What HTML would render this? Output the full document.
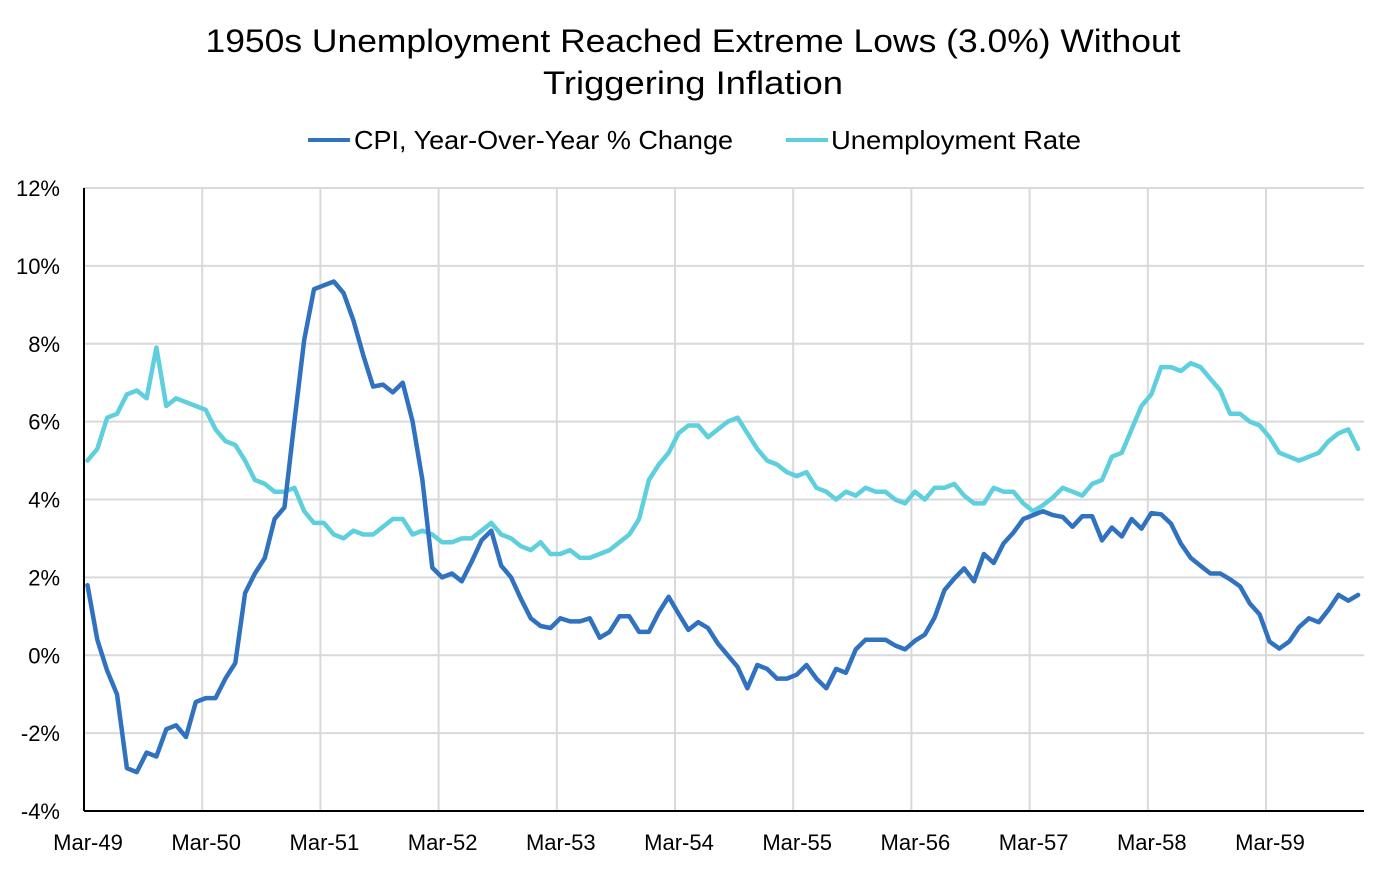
<!DOCTYPE html>
<html><head><meta charset="utf-8"><style>
html,body{margin:0;padding:0;background:#fff;}
svg{display:block;font-family:"Liberation Sans",sans-serif;}
</style></head><body>
<svg id="chart" width="1388" height="870" viewBox="0 0 1388 870">
<text x="693" y="52" text-anchor="middle" font-size="32" textLength="975" lengthAdjust="spacingAndGlyphs" fill="#000">1950s Unemployment Reached Extreme Lows (3.0%)  Without</text>
<text x="693" y="94" text-anchor="middle" font-size="32" textLength="300" lengthAdjust="spacingAndGlyphs" fill="#000">Triggering Inflation</text>
<g>
<line x1="308" y1="140" x2="350" y2="140" stroke="#3072c0" stroke-width="4"/>
<text x="354" y="149" font-size="26" textLength="379" lengthAdjust="spacingAndGlyphs">CPI, Year-Over-Year % Change</text>
<line x1="786" y1="140" x2="828" y2="140" stroke="#5ecfdc" stroke-width="4"/>
<text x="831" y="149" font-size="26" textLength="250" lengthAdjust="spacingAndGlyphs">Unemployment Rate</text>
</g>
<g id="grid"></g>
<g id="series"></g>
<g id="axes"></g>
</svg>
<script>
const yTicks = [12,10,8,6,4,2,0,-2,-4];
const yTickLabels = ["12%","10%","8%","6%","4%","2%","0%","-2%","-4%"];
const xTickLabels = ["Mar-49","Mar-50","Mar-51","Mar-52","Mar-53","Mar-54","Mar-55","Mar-56","Mar-57","Mar-58","Mar-59"];
const unemployment = [
5.0,5.3,6.1,6.2,6.7,6.8,6.6,7.9,6.4,6.6,
6.5,6.4,6.3,5.8,5.5,5.4,5.0,4.5,4.4,4.2,4.2,4.3,
3.7,3.4,3.4,3.1,3.0,3.2,3.1,3.1,3.3,3.5,3.5,3.1,
3.2,3.1,2.9,2.9,3.0,3.0,3.2,3.4,3.1,3.0,2.8,2.7,
2.9,2.6,2.6,2.7,2.5,2.5,2.6,2.7,2.9,3.1,3.5,4.5,
4.9,5.2,5.7,5.9,5.9,5.6,5.8,6.0,6.1,5.7,5.3,5.0,
4.9,4.7,4.6,4.7,4.3,4.2,4.0,4.2,4.1,4.3,4.2,4.2,
4.0,3.9,4.2,4.0,4.3,4.3,4.4,4.1,3.9,3.9,4.3,4.2,
4.2,3.9,3.7,3.85,4.05,4.3,4.2,4.1,4.4,4.5,5.1,5.2,
5.8,6.4,6.7,7.4,7.4,7.3,7.5,7.4,7.1,6.8,6.2,6.2,
6.0,5.9,5.6,5.2,5.1,5.0,5.1,5.2,5.5,5.7,5.8,5.3];
const cpi = [
1.8,0.4,-0.4,-1.0,-2.9,-3.0,-2.5,-2.6,-1.9,-1.8,
-2.1,-1.2,-1.1,-1.1,-0.6,-0.2,1.6,2.1,2.5,3.5,3.8,6.0,
8.1,9.4,9.5,9.6,9.3,8.6,7.7,6.9,6.95,6.75,7.0,6.0,
4.5,2.25,2.0,2.1,1.9,2.4,2.95,3.2,2.3,2.0,1.45,0.95,
0.75,0.7,0.95,0.87,0.87,0.95,0.45,0.6,1.0,1.0,0.6,0.6,
1.1,1.5,1.07,0.65,0.85,0.7,0.3,0.0,-0.3,-0.85,-0.25,-0.35,
-0.6,-0.6,-0.5,-0.25,-0.6,-0.85,-0.35,-0.45,0.15,0.4,0.4,0.4,
0.25,0.15,0.37,0.53,0.97,1.67,1.97,2.23,1.9,2.6,2.37,2.87,
3.15,3.5,3.6,3.7,3.6,3.55,3.3,3.57,3.57,2.95,3.28,3.05,
3.5,3.25,3.65,3.62,3.38,2.87,2.5,2.3,2.1,2.1,1.95,1.77,
1.33,1.05,0.35,0.17,0.35,0.72,0.95,0.85,1.17,1.55,1.4,1.55];

const NS="http://www.w3.org/2000/svg";
const X0=84, MONTH=9.85, YTOP=188, YBOT=811, VMAX=12, VMIN=-4, XRIGHT=1364, PT_OFF=3.5;
function xs(i){return X0+i*MONTH;}
function xp(i){return X0+PT_OFF+i*MONTH;}
function ys(v){return YTOP+(VMAX-v)/(VMAX-VMIN)*(YBOT-YTOP);}
function mk(tag,attrs,parent){const e=document.createElementNS(NS,tag);for(const k in attrs)e.setAttribute(k,attrs[k]);parent.appendChild(e);return e;}
const grid=document.getElementById('grid'), axes=document.getElementById('axes'), series=document.getElementById('series');
yTicks.forEach((v,i)=>{
  if(v!==VMIN){
    const l=mk('line',{x1:X0,x2:XRIGHT,y1:ys(v),y2:ys(v),stroke:'#d9d9d9','stroke-width':2},grid);
    
    
  }
  const t=mk('text',{x:60,y:ys(v)+8,'text-anchor':'end','font-size':22,fill:'#000'},axes);
  t.textContent=yTickLabels[i];
  
  
});
xTickLabels.forEach((lab,i)=>{
  const x=xs(i*12);
  if(i>0){
    const l=mk('line',{x1:x,x2:x,y1:YTOP,y2:YBOT,stroke:'#d9d9d9','stroke-width':2},grid);
    
    
  }
  const t=mk('text',{x:x+4,y:850,'text-anchor':'middle','font-size':22,fill:'#000'},axes);
  t.textContent=lab;
  
  
});
const ya=mk('line',{x1:X0,x2:X0,y1:YTOP,y2:YBOT,stroke:'#000','stroke-width':2},axes);


const xa=mk('line',{x1:X0,x2:XRIGHT,y1:YBOT,y2:YBOT,stroke:'#000','stroke-width':2},axes);


function pts(arr){return arr.map((v,i)=>xp(i).toFixed(1)+','+ys(v).toFixed(1)).join(' ');}
const pu=mk('polyline',{points:pts(unemployment),fill:'none',stroke:'#5ecfdc','stroke-width':4.5,'stroke-linejoin':'round','stroke-linecap':'round'},series);


const pc=mk('polyline',{points:pts(cpi),fill:'none',stroke:'#3072c0','stroke-width':4.5,'stroke-linejoin':'round','stroke-linecap':'round'},series);


</script>
</body></html>
